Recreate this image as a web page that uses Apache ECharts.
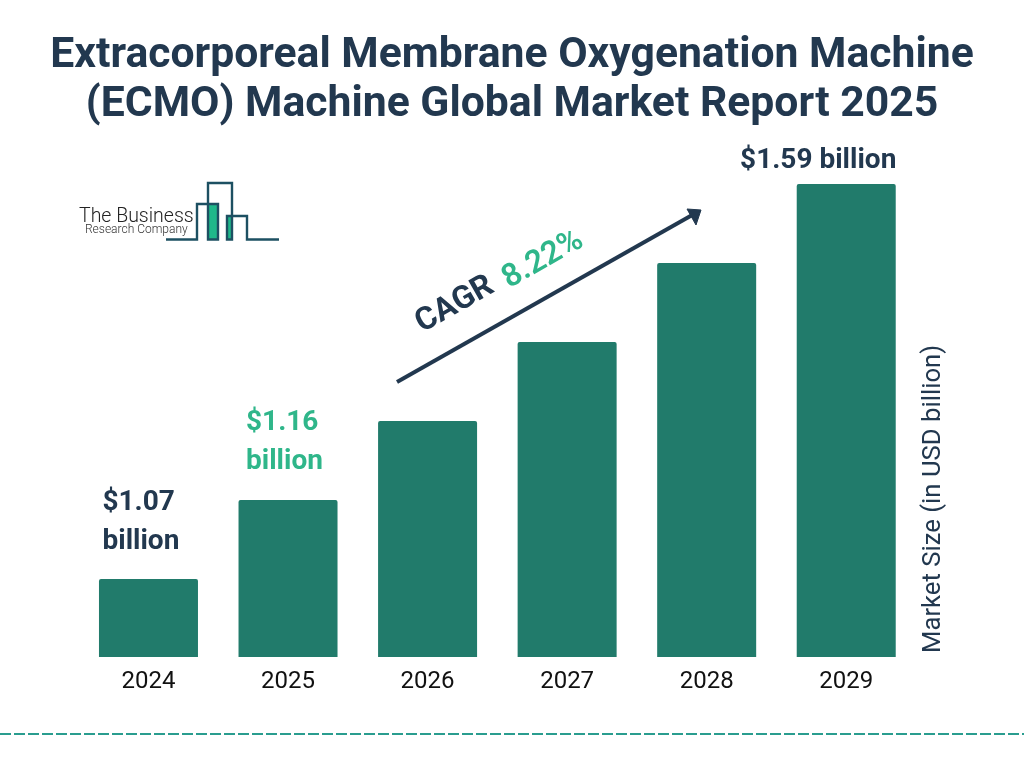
<!DOCTYPE html>
<html>
<head>
<meta charset="utf-8">
<style>
    html,body{margin:0;padding:0;background:#fff;}
    #chart{width:1024px;height:768px;}
</style>
<script src="https://cdn.jsdelivr.net/npm/echarts@6/dist/echarts.min.js"></script>
</head>
<body>
<div id="chart"></div>
<script>
var years = ['2024','2025','2026','2027','2028','2029'];
// bar values (the bars step evenly)
var marketSize = [1.07,1.174,1.278,1.382,1.486,1.59];
var valueLabels = ['$1.07\nbillion','$1.16\nbillion','','','','$1.59 billion'];

var navy = '#22384f';
var green = '#2fb68a';
var barColor = '#217b6b';
var logoColor = '#1d5062';

function labelFor(i){
    if(!valueLabels[i]) return {show:false};
    if(i==5) return {show:true,color:navy,align:'center',offset:[-28,4]};
    if(i==1) return {show:true,color:green,align:'left',offset:[-42,-10]};
    return {show:true,color:navy,align:'left',offset:[-46,-9]};
}

var barData = [];
for(var i=0;i<marketSize.length;i++){
    barData.push({value:marketSize[i],label:labelFor(i)});
}

var myChart = echarts.init(document.getElementById("chart"));
var option = {
    backgroundColor:'#fff',
    animation:false,
    textStyle:{fontFamily:'Roboto'},
    title:{
        text:'Extracorporeal Membrane Oxygenation Machine\n(ECMO) Machine Global Market Report 2025',
        left:507,
        top:27,
        textAlign:'center',
        textStyle:{
            fontFamily:'Roboto',
            fontWeight:'bold',
            fontSize:42.7,
            lineHeight:49,
            color:navy
        }
    },
    grid:{left:78.7,right:108,top:184,bottom:111},
    xAxis:{
        type:'category',
        data:years,
        axisLine:{show:false},
        axisTick:{show:false},
        axisLabel:{fontFamily:'Roboto',fontSize:24,color:'#111',margin:13}
    },
    yAxis:{
        type:'value',
        position:'right',
        offset:18,
        min:0.9673,
        max:1.59,
        splitLine:{show:false},
        axisLine:{show:false},
        axisTick:{show:false},
        axisLabel:{show:false},
        name:'Market Size (in USD billion)',
        nameLocation:'start',
        nameRotate:90,
        nameGap:-4,
        nameTextStyle:{fontFamily:'Roboto',fontSize:25.7,color:navy,align:'left',verticalAlign:'middle'}
    },
    series:[{
        type:'bar',
        data:barData,
        barWidth:99,
        itemStyle:{color:barColor,borderRadius:[2,2,0,0]},
        label:{
            position:'top',
            distance:8,
            fontFamily:'Roboto',
            fontWeight:'bold',
            fontSize:28,
            lineHeight:39,
            formatter:function(p){return valueLabels[p.dataIndex];}
        }
    }],
    graphic:[
        // CAGR arrow
        {type:'line',shape:{x1:397,y1:382,x2:694,y2:214},style:{stroke:navy,lineWidth:4}},
        {type:'polygon',shape:{points:[[701,210],[687,209],[696,225]]},style:{fill:navy,stroke:navy,lineWidth:1,lineJoin:'round'}},
        {type:'text',x:455,y:305,rotation:29.6*Math.PI/180,
            style:{text:'CAGR',fill:navy,font:'bold 32px Roboto',textAlign:'center',textVerticalAlign:'middle'}},
        {type:'text',x:543,y:260,rotation:29.6*Math.PI/180,
            style:{text:'8.22%',fill:green,font:'600 32px Roboto',textAlign:'center',textVerticalAlign:'middle'}},
        // logo
        {type:'rect',shape:{x:208,y:205,width:10,height:34},style:{fill:'#1fb88a'}},
        {type:'rect',shape:{x:227,y:217,width:5,height:22},style:{fill:'#1fb88a'}},
        {type:'polyline',
            shape:{points:[[166,239.5],[197,239.5],[197,204],[218,204],[218,239.5],[208,239.5],[208,183],[232,183],[232,239.5],[227,239.5],[227,216],[247,216],[247,239.5],[279,239.5]]},
            style:{stroke:logoColor,lineWidth:2.4,fill:null}},
        {type:'text',x:79,y:217,style:{text:'The Business',fill:'#222',font:'300 19.5px Roboto',textVerticalAlign:'middle'}},
        {type:'text',x:85,y:230,style:{text:'Research Company',fill:'#333',font:'300 12px Roboto',textVerticalAlign:'middle'}},
        // dashed rule at the bottom
        {type:'line',shape:{x1:0,y1:734,x2:1024,y2:734},style:{stroke:'#2a9d8f',lineWidth:2,lineDash:[11,3]}}
    ]
};

myChart.setOption(option);
</script>
</body>
</html>
